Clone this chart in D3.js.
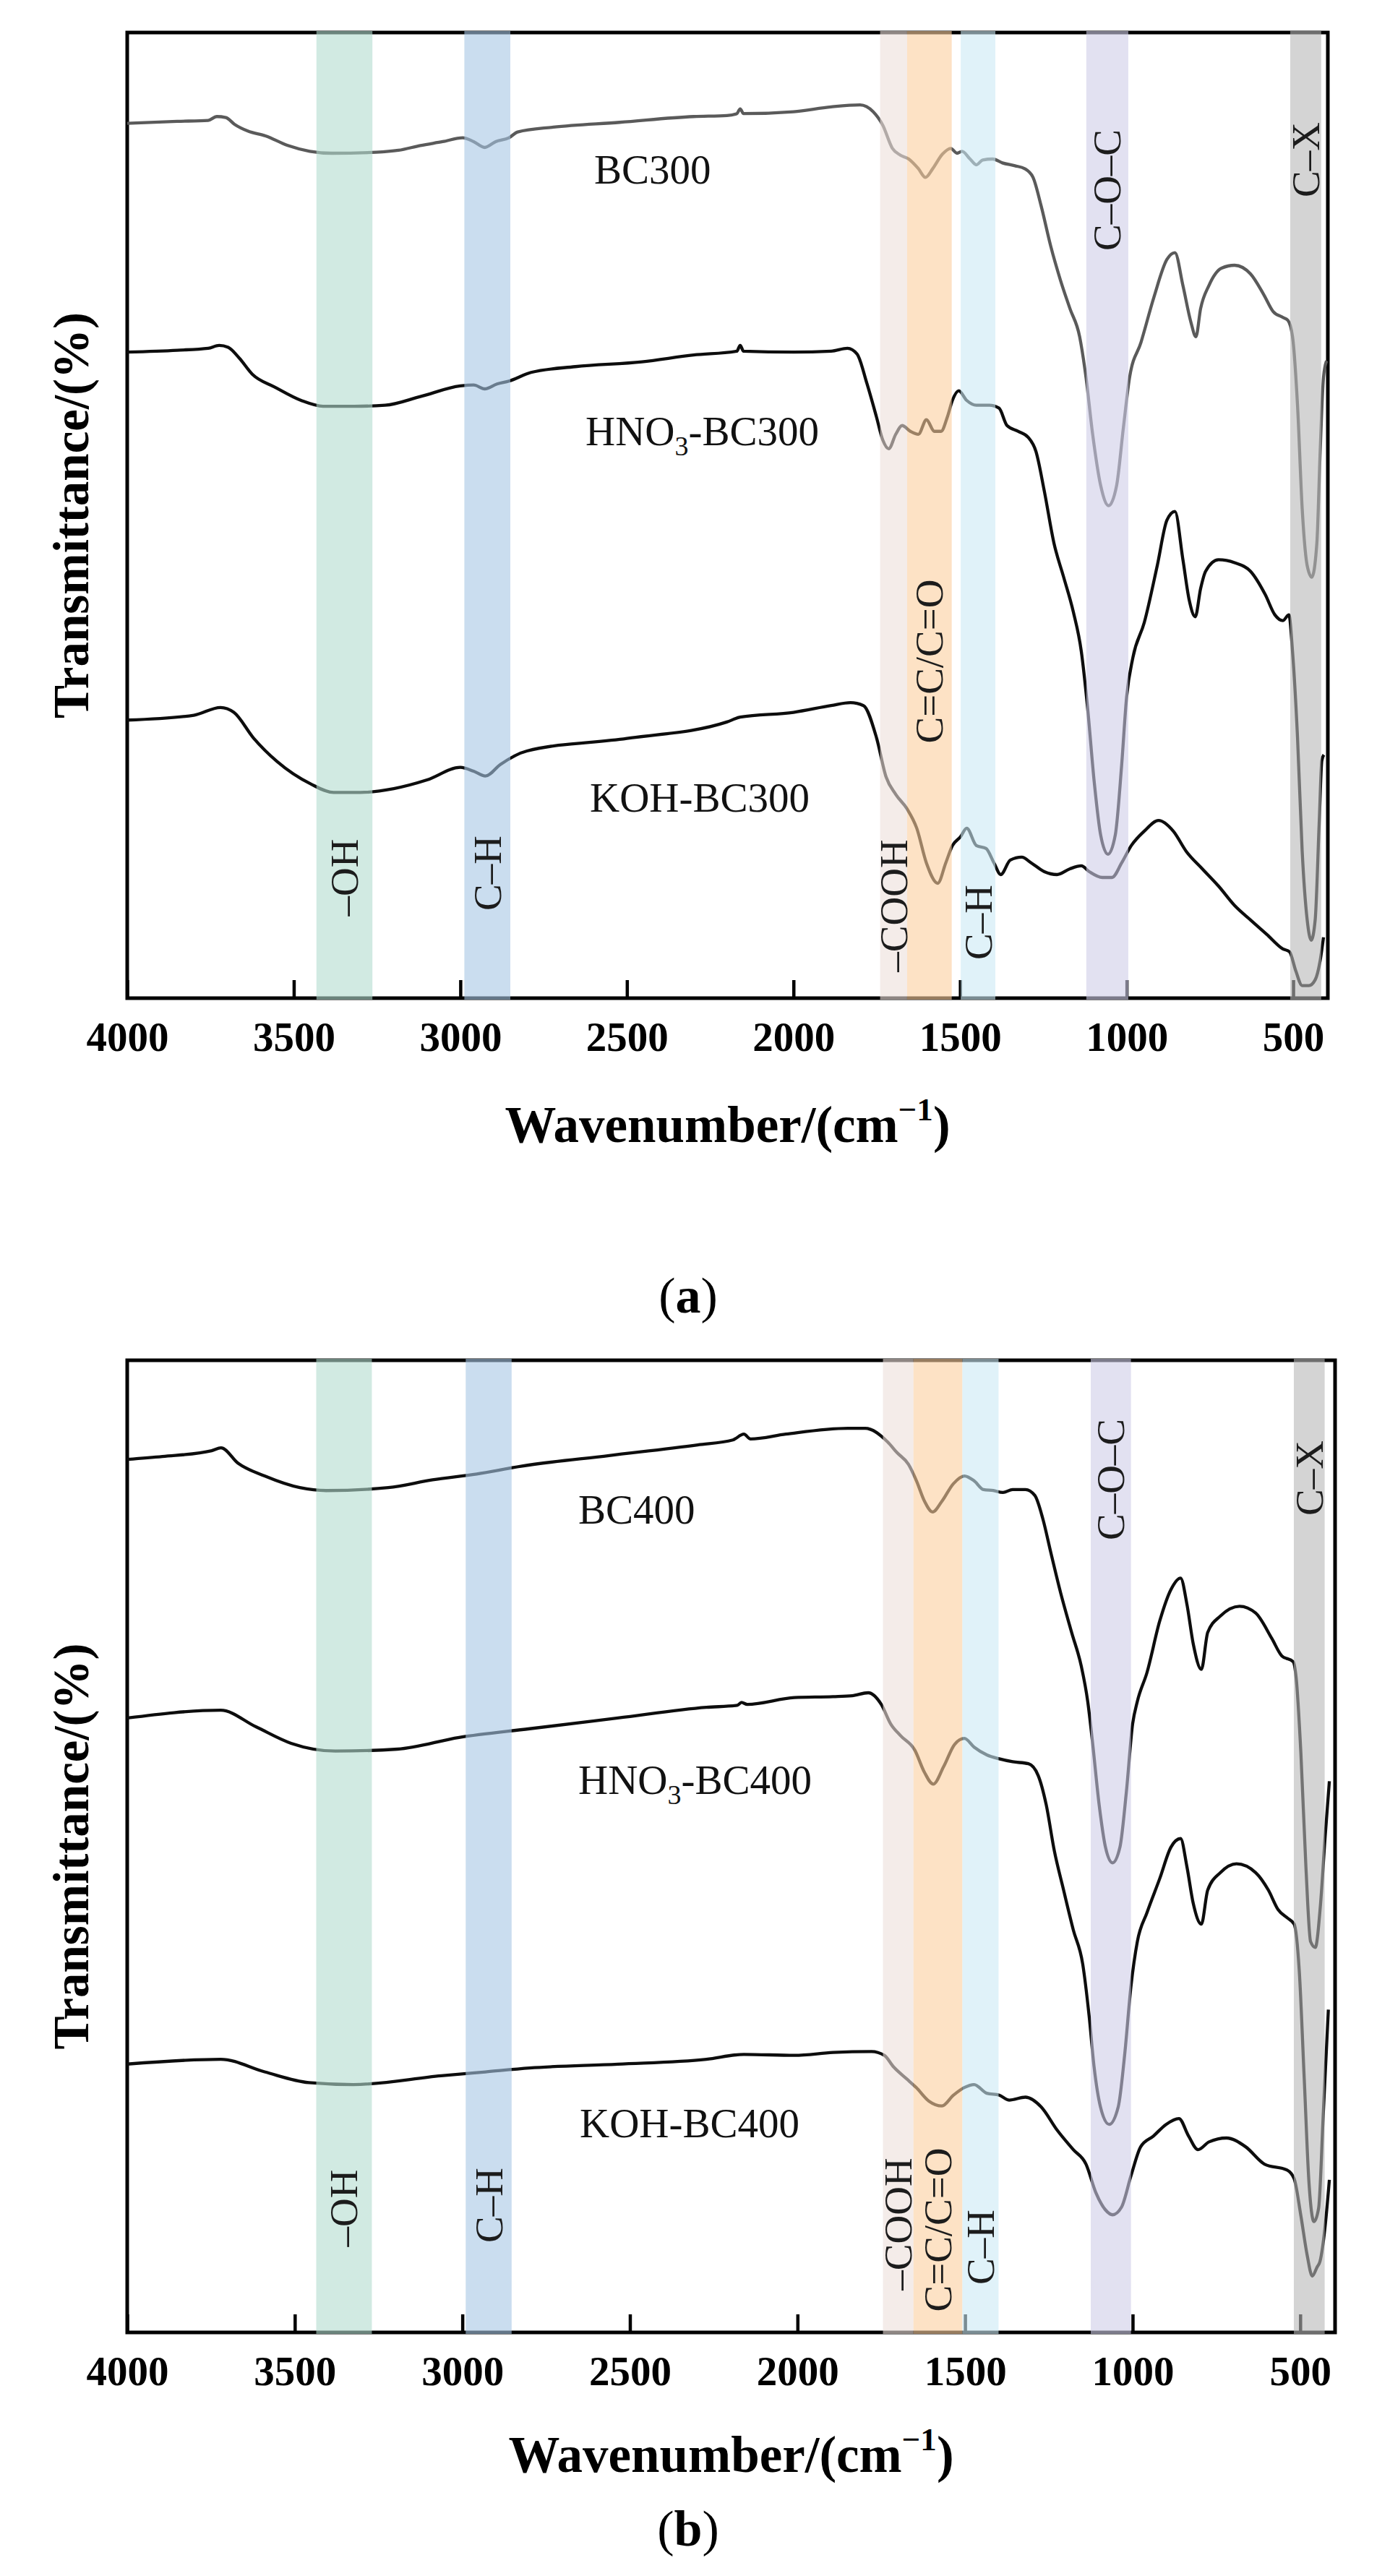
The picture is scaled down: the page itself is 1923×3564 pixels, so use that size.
<!DOCTYPE html>
<html>
<head>
<meta charset="utf-8">
<script src="https://cdn.jsdelivr.net/npm/d3@7"></script>
<style>
  body { margin: 0; background: #fff; }
  text { font-family: "Liberation Serif", "Times New Roman", serif; }
</style>
</head>
<body>
<script>
// ---- data: wavenumber (cm-1) and relative transmittance (arbitrary units, 0 = frame bottom, 100 = frame top)
var bc300Wn = [4000,3850,3757,3731,3704,3678,3638,3585,3518,3452,3386,3253,3186,3120,3053,2993,2960,2927,2894,2854,2828,2721,2522,2300,2200,2170,2160,2150,2000,1887,1800,1761,1732,1703,1679,1654,1625,1604,1582,1553,1528,1509,1494,1470,1451,1432,1402,1373,1335,1306,1281,1257,1228,1199,1170,1141,1122,1102,1078,1054,1030,1010,991,957,918,879,855,831,807,792,778,753,715,676,628,589,560,531,516,502,487,473,458,444,429,419,409,400];
var bc300T  = [90.6,90.8,90.9,91.3,91.2,90.5,89.8,89.3,88.3,87.7,87.5,87.6,87.8,88.3,88.7,89.1,88.7,88.1,88.7,89.1,89.7,90.2,90.7,91.3,91.4,91.6,92.1,91.6,91.8,92.3,92.5,91.8,90.4,88.0,87.3,86.9,85.9,85.0,85.9,87.4,88.0,87.5,87.7,86.9,86.3,86.8,86.9,86.5,86.2,85.9,85.0,82.1,77.9,74.4,71.4,68.5,64.3,58.4,53.1,51.0,53.1,59.0,64.3,67.9,72.6,76.5,77.2,73.8,70.0,68.5,71.4,73.8,75.6,75.9,75.0,72.9,71.1,70.5,70.2,68.5,61.4,50.7,44.8,43.6,47.1,56.6,64.3,66.0];

var hno3bc300Wn = [4000,3850,3757,3724,3697,3664,3624,3558,3478,3412,3319,3226,3120,3000,2960,2927,2890,2854,2788,2655,2455,2300,2170,2160,2150,2000,1887,1838,1809,1780,1751,1732,1714,1693,1674,1649,1625,1601,1577,1557,1538,1523,1504,1480,1451,1412,1383,1359,1325,1296,1272,1247,1218,1189,1160,1136,1117,1097,1078,1056,1034,1015,1000,981,947,908,879,855,831,812,794,778,763,724,676,628,584,555,531,513,502,487,473,458,446,434,422,414,408];
var hno3bc300T  = [66.9,67.1,67.3,67.6,67.4,66.3,64.6,63.3,61.9,61.3,61.3,61.4,62.3,63.4,63.5,63.1,63.6,63.9,64.8,65.4,65.9,66.6,67.0,67.6,67.0,66.9,67.0,67.3,66.7,63.7,60.2,57.8,56.9,58.4,59.3,58.7,58.4,59.9,58.7,58.7,60.2,61.9,62.9,61.9,61.4,61.4,61.1,59.3,58.7,58.1,56.6,52.5,47.1,43.6,40.0,35.9,30.0,22.3,16.9,14.9,16.9,24.1,31.2,35.3,38.9,44.8,49.5,50.4,45.4,41.2,39.5,42.4,44.2,45.4,45.1,44.2,41.8,39.7,39.1,39.7,35.9,27.0,15.2,8.1,6.0,8.1,18.1,24.6,25.2];

var kohbc300Wn = [4000,3800,3720,3680,3620,3550,3450,3380,3300,3200,3100,3000,2960,2925,2880,2800,2500,2200,2160,2000,1887,1829,1790,1751,1722,1693,1659,1630,1601,1567,1543,1523,1499,1480,1451,1422,1398,1378,1349,1315,1286,1247,1209,1170,1136,1112,1073,1044,1015,986,947,904,860,821,773,724,676,628,579,531,511,492,473,453,434,419,409];
var kohbc300T  = [28.8,29.3,30.1,29.6,26.9,24.5,22.2,21.3,21.3,21.7,22.6,23.9,23.5,23.0,24.2,25.6,26.9,28.6,29.1,29.6,30.3,30.6,30.3,27.0,22.9,21.1,19.6,17.6,14.0,11.9,14.0,15.8,16.7,17.6,15.8,15.5,14.0,12.8,14.3,14.6,14.0,13.1,12.8,13.4,13.7,13.1,12.5,12.5,14.0,15.8,17.3,18.4,17.3,15.2,13.4,11.6,9.6,8.1,6.6,5.1,4.8,2.8,1.3,1.3,1.9,3.9,6.3];

var bc400Wn = [4000,3895,3748,3720,3669,3590,3485,3406,3221,3089,2957,2825,2562,2298,2193,2160,2140,2035,1850,1798,1731,1703,1669,1645,1621,1597,1569,1535,1502,1473,1445,1416,1387,1358,1320,1292,1268,1244,1215,1182,1153,1134,1120,1100,1081,1060,1038,1019,1000,986,957,919,886,857,838,819,795,776,738,681,633,585,555,521,512,498,483,469,455,440,426,413];
var bc400T  = [89.8,90.1,90.7,91.0,89.4,88.1,86.9,86.6,86.9,87.7,88.3,89.1,90.2,91.3,91.8,92.4,91.9,92.4,93.0,93.0,91.6,90.5,89.3,87.6,85.5,84.4,85.5,87.3,88.1,87.6,86.7,86.6,86.4,86.7,86.7,86.1,83.7,80.2,76.1,72.0,68.5,64.9,60.8,54.3,49.9,48.3,49.9,55.5,62.6,64.9,67.9,73.2,76.4,77.6,74.9,70.8,68.2,72.0,73.7,74.7,74.0,71.4,69.6,69.0,67.3,59.6,47.9,40.2,39.6,43.8,50.8,56.7];

var hno3bc400Wn = [4000,3721,3616,3511,3379,3194,3010,2799,2536,2272,2180,2167,2150,2009,1894,1837,1789,1750,1722,1693,1650,1621,1595,1564,1531,1502,1473,1435,1398,1358,1311,1282,1258,1234,1206,1177,1149,1130,1115,1096,1070,1043,1024,1005,986,957,919,886,857,838,819,795,776,738,690,633,595,566,537,518,503,488,474,459,445,431,416];
var hno3bc400T  = [63.2,64.0,62.3,60.6,59.8,60.0,61.2,62.1,63.2,64.3,64.5,64.8,64.6,65.3,65.4,65.5,65.8,64.6,62.6,61.4,59.9,57.6,56.4,58.2,60.5,61.1,60.2,59.4,59.0,58.7,58.5,57.3,54.3,49.6,45.5,41.4,37.9,32.6,27.3,23.2,21.4,23.2,28.5,35.6,40.2,43.2,46.7,49.9,50.8,47.9,44.1,42.0,45.5,47.3,48.2,47.3,45.5,43.5,42.6,42.0,37.3,26.1,15.5,11.4,12.8,22.6,33.2];

var kohbc400Wn = [4000,3721,3590,3458,3326,3063,2931,2799,2536,2272,2160,2009,1894,1779,1741,1713,1675,1646,1608,1569,1535,1502,1473,1435,1398,1368,1320,1273,1225,1177,1139,1110,1081,1060,1033,1005,976,938,900,862,833,805,772,720,663,606,539,518,498,479,464,450,441,426,413];
var kohbc400T  = [27.6,28.1,26.8,25.7,25.5,26.4,26.8,27.2,27.6,28.1,28.6,28.5,28.8,28.9,28.5,27.3,26.1,25.2,23.8,23.3,24.4,25.2,25.5,24.6,24.4,23.9,24.2,23.2,20.8,18.8,17.3,14.4,12.6,12.1,12.9,16.1,19.1,20.2,21.4,22.0,20.2,18.8,19.6,20.0,19.1,17.3,16.7,15.8,12.0,7.9,5.8,6.7,7.3,10.8,15.7];

// absorption band ranges (cm-1)
var bandLabels = ["\u2013OH", "C\u2013H", "\u2013COOH", "C=C/C=O", "C\u2013H", "C\u2013O\u2013C", "C\u2013X"];
var bandsA = [[3432, 3264], [2988, 2850], [1740, 1659], [1659, 1525], [1498, 1394], [1121, 995], [509, 416]];
var bandsB = [[3436, 3270], [2990, 2853], [1745, 1654], [1654, 1508], [1508, 1400], [1125, 1005], [519, 427]];
var tickValues = [4000, 3500, 3000, 2500, 2000, 1500, 1000, 500];

// ---- styles / layout
var bandColors = ["#b2dccf", "#a7c6e4", "#eddfda", "#fbcf9f", "#cbeaf5", "#cfcde8", "#b8b8b8"];
var bandOpacity = 0.6;
var W = 1923, H = 3564;

var panels = [
  { top: 45, bottom: 1381, left: 176, right: 1837, tag: "a",
    bands: bandsA,
    bandLabelY: [1169, 1163, 1208, 870, 1231, 218, 176],
    series: [
      { wn: bc300Wn, t: bc300T, color: "#5a5a5a", name: ["BC300"], lx: 822, ly: 235 },
      { wn: hno3bc300Wn, t: hno3bc300T, color: "#0d0d0d", name: ["HNO", "3", "-BC300"], lx: 810, ly: 597 },
      { wn: kohbc300Wn, t: kohbc300T, color: "#0d0d0d", name: ["KOH-BC300"], lx: 816, ly: 1104 }
    ],
    tickY: 1436, titleY: 1580, capY: 1816 },
  { top: 1882, bottom: 3227, left: 176, right: 1847, tag: "b",
    bands: bandsB,
    bandLabelY: [1173, 1169, 1195, 1203, 1227, 165, 163],
    series: [
      { wn: bc400Wn, t: bc400T, color: "#0d0d0d", name: ["BC400"], lx: 800, ly: 2089 },
      { wn: hno3bc400Wn, t: hno3bc400T, color: "#0d0d0d", name: ["HNO", "3", "-BC400"], lx: 800, ly: 2463 },
      { wn: kohbc400Wn, t: kohbc400T, color: "#0d0d0d", name: ["KOH-BC400"], lx: 802, ly: 2938 }
    ],
    tickY: 3282, titleY: 3420, capY: 3522 }
];

var svg = d3.select("body").append("svg")
  .attr("width", W)
  .attr("height", H);

svg.append("rect").attr("width", W).attr("height", H).attr("fill", "#fff");

panels.forEach(function(p, pi) {
  var x = d3.scaleLinear().domain([4000, 396]).range([p.left, p.right]);
  var y = d3.scaleLinear().domain([0, 100]).range([p.bottom, p.top]);

  var clipId = "clip" + pi;
  svg.append("clipPath").attr("id", clipId)
    .append("rect")
    .attr("x", p.left).attr("y", p.top)
    .attr("width", p.right - p.left).attr("height", p.bottom - p.top);

  // frame
  svg.append("rect")
    .attr("x", p.left).attr("y", p.top)
    .attr("width", p.right - p.left).attr("height", p.bottom - p.top)
    .attr("fill", "none")
    .attr("stroke", "#000")
    .attr("stroke-width", 5);

  // bottom axis, ticks pointing inward
  var axis = d3.axisBottom(x)
    .tickValues(tickValues)
    .tickFormat(d3.format("d"))
    .tickSizeInner(-25)
    .tickSizeOuter(0)
    .tickPadding(33);
  var ax = svg.append("g")
    .attr("transform", "translate(0," + p.bottom + ")")
    .call(axis);
  ax.select(".domain").remove();
  ax.selectAll(".tick line").attr("stroke", "#000").attr("stroke-width", 4.5);
  ax.selectAll(".tick text")
    .attr("fill", "#000")
    .style("font-family", "'Liberation Serif', serif")
    .style("font-weight", "bold")
    .style("font-size", "57px");

  // spectra
  var line = d3.line()
    .x(function(d) { return x(d[0]); })
    .y(function(d) { return y(d[1]); })
    .curve(d3.curveMonotoneX);

  var g = svg.append("g").attr("clip-path", "url(#" + clipId + ")");
  p.series.forEach(function(s) {
    var pts = s.wn.map(function(w, i) { return [w, s.t[i]]; });
    g.append("path")
      .datum(pts)
      .attr("d", line)
      .attr("fill", "none")
      .attr("stroke", s.color)
      .attr("stroke-width", 4.3)
      .attr("stroke-linejoin", "round");
  });

  // series labels
  p.series.forEach(function(s) {
    var t = svg.append("text")
      .attr("x", s.lx)
      .attr("y", s.ly + 19)
      .style("font-size", "57px")
      .attr("fill", "#111");
    if (s.name.length === 1) {
      t.text(s.name[0]);
    } else {
      t.append("tspan").text(s.name[0]);
      t.append("tspan").text(s.name[1]).style("font-size", "38px").attr("dy", 14);
      t.append("tspan").text(s.name[2]).attr("dy", -14);
    }
  });

  // translucent bands drawn over the spectra and frame
  svg.append("g").selectAll("rect")
    .data(p.bands)
    .enter()
    .append("rect")
    .attr("x", function(d) { return x(d[0]); })
    .attr("width", function(d) { return x(d[1]) - x(d[0]); })
    .attr("y", p.top - 2)
    .attr("height", p.bottom - p.top + 4)
    .attr("fill", function(d, i) { return bandColors[i]; })
    .attr("fill-opacity", bandOpacity);

  // band labels (rotated), on top of the bands
  p.bands.forEach(function(b, i) {
    var cx = x((b[0] + b[1]) / 2);
    var cy = p.top + p.bandLabelY[i];
    svg.append("text")
      .attr("transform", "translate(" + cx + "," + cy + ") rotate(-90)")
      .attr("text-anchor", "middle")
      .attr("dominant-baseline", "central")
      .style("font-size", "55px")
      .attr("fill", "#1c1c1c")
      .text(bandLabels[i]);
  });

  // axis titles
  var cxMid = (p.left + p.right) / 2;
  var xt = svg.append("text")
    .attr("x", cxMid)
    .attr("y", p.titleY)
    .attr("text-anchor", "middle")
    .style("font-size", "71px")
    .style("font-weight", "bold");
  xt.append("tspan").text("Wavenumber/(cm");
  xt.append("tspan").text("\u22121").style("font-size", "45px").attr("dy", -30);
  xt.append("tspan").text(")").attr("dy", 30);

  svg.append("text")
    .attr("transform", "translate(99," + ((p.top + p.bottom) / 2) + ") rotate(-90)")
    .attr("text-anchor", "middle")
    .attr("dominant-baseline", "central")
    .style("font-size", "69px")
    .style("font-weight", "bold")
    .text("Transmittance/(%)");

  // panel caption
  var cap = svg.append("text")
    .attr("x", 952)
    .attr("y", p.capY)
    .attr("text-anchor", "middle")
    .style("font-size", "70px");
  cap.append("tspan").text("(");
  cap.append("tspan").text(p.tag).style("font-weight", "bold");
  cap.append("tspan").text(")");
});
</script>
</body>
</html>
